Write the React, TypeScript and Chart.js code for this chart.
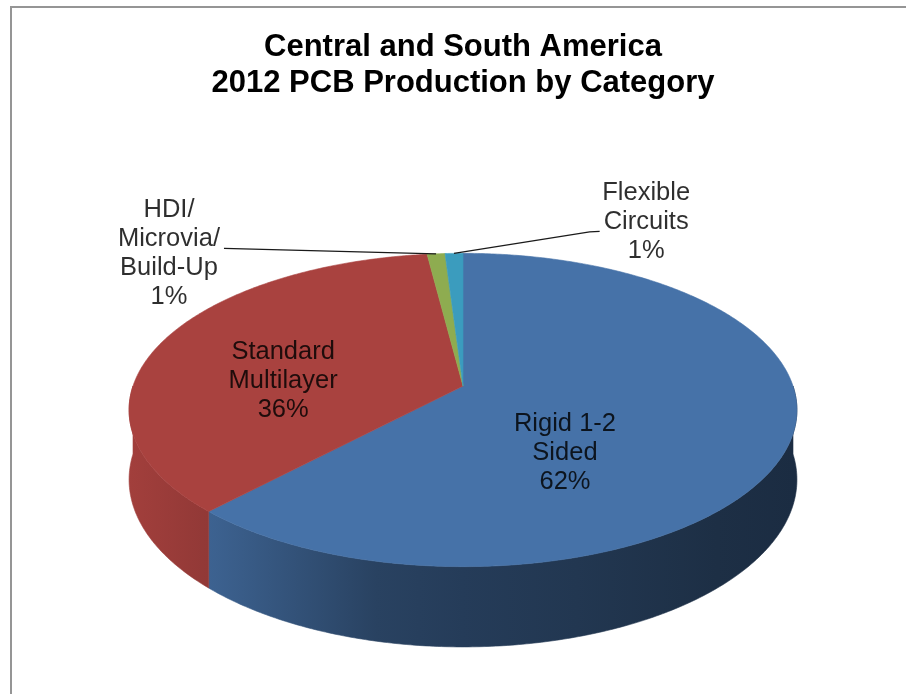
import React, { useEffect, useRef } from "react";
import { Chart, registerables } from "chart.js";

Chart.register(...registerables);

// ---------- data ----------
const TITLE_LINES = ["Central and South America", "2012 PCB Production by Category"];
const CATEGORIES = ["Rigid 1-2 Sided", "Standard Multilayer", "HDI/ Microvia/ Build-Up", "Flexible Circuits"];
const LABEL_LINES = [["Rigid 1-2", "Sided"], ["Standard", "Multilayer"], ["HDI/", "Microvia/", "Build-Up"], ["Flexible", "Circuits"]];
const VALUES = [62, 36, 1, 1];

// ---------- style ----------
const COLORS = ["#4672A8", "#A9423F", "#8EAC50", "#3B9CBE"];
const FONT = '"Liberation Sans", Arial, sans-serif';
const GEO = { ax: 330, by: 153, k: 0.153, depth: 68 };
const SIDE_SHADE: [number, number][] = [
  [0, 0.96], [0.13, 0.85], [0.37, 0.58], [0.5, 0.53], [0.67, 0.48], [0.88, 0.41], [1, 0.39],
];
// label block centres in pie-normalised units; leader side
const LABEL_POS = [
  { x: 0.309, y: 0.438, leader: "" },
  { x: -0.545, y: -0.033, leader: "" },
  { x: -0.891, y: -0.863, leader: "right" },
  { x: 0.555, y: -1.069, leader: "left" },
];
const LABEL_FONT_SIZE = 25.5;
const LABEL_LINE_H = 29;

function hexToRgb(h: string) {
  const n = parseInt(h.slice(1), 16);
  return [(n >> 16) & 255, (n >> 8) & 255, n & 255];
}
function shade(h: string, f: number) {
  const [r, g, b] = hexToRgb(h);
  return `rgb(${Math.round(r * f)},${Math.round(g * f)},${Math.round(b * f)})`;
}

const pie3d = {
  id: "pie3d",
  beforeDraw(chart: any) {
    const ctx = chart.ctx;
    ctx.save();
    ctx.fillStyle = "#ffffff";
    ctx.fillRect(0, 0, chart.width, chart.height);
    ctx.strokeStyle = "#959595";
    ctx.lineWidth = 2;
    ctx.strokeRect(11, 7, chart.width + 50, chart.height + 50);
    ctx.restore();
  },
  beforeDatasetsDraw(chart: any) {
    const meta = chart.getDatasetMeta(0);
    const arcs = meta.data;
    if (!arcs.length) return false;
    const ctx = chart.ctx;
    const cx = arcs[0].x, cy = arcs[0].y;
    const { ax, by, k, depth } = GEO;
    const proj = (th: number) => {
      const u = Math.cos(th), v = Math.sin(th);
      const w = 1 - k * v;
      return { x: cx + (ax * u) / w, y: cy + (by * v) / w, w };
    };
    const half = ax / Math.sqrt(1 - k * k);
    const left = cx - half, right = cx + half;
    ctx.save();
    // side walls
    arcs.forEach((arc: any, i: number) => {
      const { startAngle, endAngle } = arc.getProps(["startAngle", "endAngle"], true);
      const t1 = Math.max(startAngle, 0), t2 = Math.min(endAngle, Math.PI);
      if (t2 <= t1) return;
      const n = Math.max(2, Math.ceil((t2 - t1) / 0.01));
      ctx.beginPath();
      for (let j = 0; j <= n; j++) {
        const p = proj(t1 + ((t2 - t1) * j) / n);
        if (j === 0) ctx.moveTo(p.x, p.y); else ctx.lineTo(p.x, p.y);
      }
      for (let j = n; j >= 0; j--) {
        const p = proj(t1 + ((t2 - t1) * j) / n);
        ctx.lineTo(p.x, p.y + depth / p.w);
      }
      ctx.closePath();
      const base = arc.options.backgroundColor || COLORS[i];
      const g = ctx.createLinearGradient(left, 0, right, 0);
      SIDE_SHADE.forEach(([t, f]) => g.addColorStop(t, shade(base, f)));
      ctx.fillStyle = g;
      ctx.fill();
      ctx.strokeStyle = g;
      ctx.lineWidth = 0.6;
      ctx.stroke();
    });
    // top faces
    arcs.forEach((arc: any, i: number) => {
      const { startAngle, endAngle } = arc.getProps(["startAngle", "endAngle"], true);
      const n = Math.max(2, Math.ceil((endAngle - startAngle) / 0.01));
      ctx.beginPath();
      ctx.moveTo(cx, cy);
      for (let j = 0; j <= n; j++) {
        const p = proj(startAngle + ((endAngle - startAngle) * j) / n);
        ctx.lineTo(p.x, p.y);
      }
      ctx.closePath();
      const base = arc.options.backgroundColor || COLORS[i];
      ctx.fillStyle = base;
      ctx.fill();
      ctx.strokeStyle = base;
      ctx.lineWidth = 0.6;
      ctx.stroke();
    });
    ctx.restore();
    return false;
  },
  afterDraw(chart: any) {
    const meta = chart.getDatasetMeta(0);
    const arcs = meta.data;
    if (!arcs.length) return;
    const ctx = chart.ctx;
    const cx = arcs[0].x, cy = arcs[0].y;
    const { ax, by, k } = GEO;
    const proj = (th: number) => {
      const u = Math.cos(th), v = Math.sin(th);
      const w = 1 - k * v;
      return { x: cx + (ax * u) / w, y: cy + (by * v) / w };
    };
    ctx.save();
    ctx.font = `${LABEL_FONT_SIZE}px ${FONT}`;
    ctx.textAlign = "center";
    ctx.textBaseline = "middle";
    arcs.forEach((arc: any, i: number) => {
      const pos = LABEL_POS[i];
      const lines = [...LABEL_LINES[i], `${VALUES[i]}%`];
      const lx = cx + pos.x * ax;
      const ly = cy + pos.y * by;
      ctx.fillStyle = "rgba(0,0,0,0.82)";
      lines.forEach((ln, j) => {
        ctx.fillText(ln, lx, ly + (j - (lines.length - 1) / 2) * LABEL_LINE_H);
      });
      if (pos.leader) {
        const { startAngle, endAngle } = arc.getProps(["startAngle", "endAngle"], true);
        const end = proj((startAngle + endAngle) / 2);
        const wLine = ctx.measureText(lines[1]).width;
        const sy = ly + (1 - (lines.length - 1) / 2) * LABEL_LINE_H + 9;
        const sx = pos.leader === "right" ? lx + wLine / 2 + 4 : lx - wLine / 2 - 4;
        ctx.beginPath();
        ctx.moveTo(sx, sy);
        if (pos.leader === "left") ctx.lineTo(sx - 10, sy + 0.5);
        ctx.lineTo(end.x, end.y);
        ctx.strokeStyle = "#1a1a1a";
        ctx.lineWidth = 1.3;
        ctx.stroke();
      }
    });
    ctx.restore();
  },
};

export default function App() {
  const ref = useRef<HTMLCanvasElement | null>(null);
  useEffect(() => {
    if (!ref.current) return;
    const chart = new Chart(ref.current, {
      type: "pie",
      data: {
        labels: CATEGORIES,
        datasets: [{ data: VALUES, backgroundColor: COLORS, borderWidth: 0 }],
      },
      options: {
        responsive: false,
        animation: false,
        devicePixelRatio: 1,
        layout: { padding: { left: 40, right: 20, top: 0, bottom: 33 } },
        plugins: {
          legend: { display: false },
          tooltip: { enabled: false },
          title: {
            display: true,
            text: TITLE_LINES,
            color: "#000000",
            font: { family: FONT, size: 31, weight: "bold", lineHeight: 36 / 31 },
            padding: { top: 29, bottom: 10 },
          },
        },
      } as any,
      plugins: [pie3d as any],
    });
    return () => chart.destroy();
  }, []);
  return (
    <div style={{ position: "absolute", left: 0, top: 0, width: 906, height: 694 }}>
      <canvas ref={ref} width={906} height={694} style={{ display: "block" }} />
    </div>
  );
}
